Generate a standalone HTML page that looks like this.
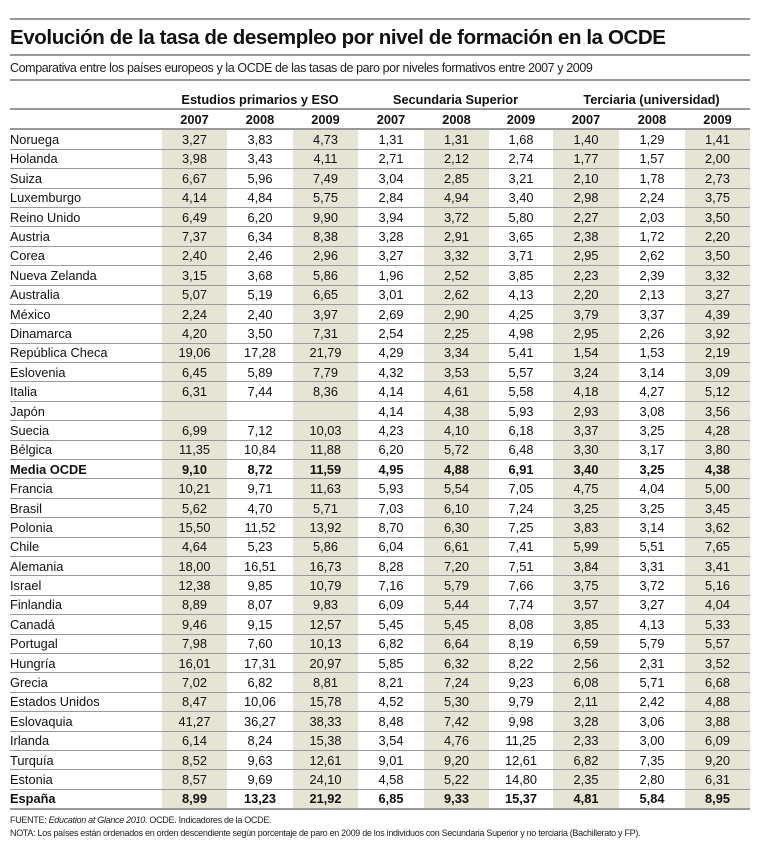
<!DOCTYPE html>
<html><head><meta charset="utf-8"><style>
body{margin:0;background:#fff;width:761px;height:850px;position:relative;font-family:"Liberation Sans",sans-serif;color:#111;overflow:hidden}
.hl{position:absolute;left:10px;width:740px;height:0;border-top:2px solid #999}
#t{position:absolute;left:10px;top:26px;font-size:20.5px;font-weight:bold;letter-spacing:-0.4px;white-space:nowrap}
#s{position:absolute;left:10px;top:61px;font-size:12.5px;letter-spacing:-0.4px;white-space:nowrap;color:#222}
table{position:absolute;left:10px;top:90px;border-collapse:collapse;table-layout:fixed;font-size:12.8px}
td{padding:0;height:18.4px;text-align:center;border-bottom:1px solid #999;white-space:nowrap}
td:first-child{text-align:left}
tr.h td{font-weight:bold;border-bottom:2px solid #999}
tr.g td{height:18px}
tr.b td{font-weight:bold}
tr.d td:nth-child(2),tr.d td:nth-child(4),tr.d td:nth-child(6),tr.d td:nth-child(8),tr.d td:nth-child(10){background:#e6e4d4}
#f{position:absolute;left:10px;top:814px;font-size:9px;line-height:13px;letter-spacing:-0.3px;color:#222;white-space:nowrap}
</style></head><body>
<div class="hl" style="top:18px"></div>
<div id="t">Evolución de la tasa de desempleo por nivel de formación en la OCDE</div>
<div class="hl" style="top:54px"></div>
<div id="s">Comparativa entre los países europeos y la OCDE de las tasas de paro por niveles formativos entre 2007 y 2009</div>
<div class="hl" style="top:79px"></div>
<table>
<colgroup><col style="width:152px"><col style="width:65px"><col style="width:66px"><col style="width:65px"><col style="width:66px"><col style="width:65px"><col style="width:64px"><col style="width:66px"><col style="width:66px"><col style="width:65px"></colgroup>
<tr class="h g"><td></td><td colspan="3">Estudios primarios y ESO</td><td colspan="3">Secundaria Superior</td><td colspan="3">Terciaria (universidad)</td></tr>
<tr class="h"><td></td><td>2007</td><td>2008</td><td>2009</td><td>2007</td><td>2008</td><td>2009</td><td>2007</td><td>2008</td><td>2009</td></tr>
<tr class="d"><td>Noruega</td><td>3,27</td><td>3,83</td><td>4,73</td><td>1,31</td><td>1,31</td><td>1,68</td><td>1,40</td><td>1,29</td><td>1,41</td></tr>
<tr class="d"><td>Holanda</td><td>3,98</td><td>3,43</td><td>4,11</td><td>2,71</td><td>2,12</td><td>2,74</td><td>1,77</td><td>1,57</td><td>2,00</td></tr>
<tr class="d"><td>Suiza</td><td>6,67</td><td>5,96</td><td>7,49</td><td>3,04</td><td>2,85</td><td>3,21</td><td>2,10</td><td>1,78</td><td>2,73</td></tr>
<tr class="d"><td>Luxemburgo</td><td>4,14</td><td>4,84</td><td>5,75</td><td>2,84</td><td>4,94</td><td>3,40</td><td>2,98</td><td>2,24</td><td>3,75</td></tr>
<tr class="d"><td>Reino Unido</td><td>6,49</td><td>6,20</td><td>9,90</td><td>3,94</td><td>3,72</td><td>5,80</td><td>2,27</td><td>2,03</td><td>3,50</td></tr>
<tr class="d"><td>Austria</td><td>7,37</td><td>6,34</td><td>8,38</td><td>3,28</td><td>2,91</td><td>3,65</td><td>2,38</td><td>1,72</td><td>2,20</td></tr>
<tr class="d"><td>Corea</td><td>2,40</td><td>2,46</td><td>2,96</td><td>3,27</td><td>3,32</td><td>3,71</td><td>2,95</td><td>2,62</td><td>3,50</td></tr>
<tr class="d"><td>Nueva Zelanda</td><td>3,15</td><td>3,68</td><td>5,86</td><td>1,96</td><td>2,52</td><td>3,85</td><td>2,23</td><td>2,39</td><td>3,32</td></tr>
<tr class="d"><td>Australia</td><td>5,07</td><td>5,19</td><td>6,65</td><td>3,01</td><td>2,62</td><td>4,13</td><td>2,20</td><td>2,13</td><td>3,27</td></tr>
<tr class="d"><td>México</td><td>2,24</td><td>2,40</td><td>3,97</td><td>2,69</td><td>2,90</td><td>4,25</td><td>3,79</td><td>3,37</td><td>4,39</td></tr>
<tr class="d"><td>Dinamarca</td><td>4,20</td><td>3,50</td><td>7,31</td><td>2,54</td><td>2,25</td><td>4,98</td><td>2,95</td><td>2,26</td><td>3,92</td></tr>
<tr class="d"><td>República Checa</td><td>19,06</td><td>17,28</td><td>21,79</td><td>4,29</td><td>3,34</td><td>5,41</td><td>1,54</td><td>1,53</td><td>2,19</td></tr>
<tr class="d"><td>Eslovenia</td><td>6,45</td><td>5,89</td><td>7,79</td><td>4,32</td><td>3,53</td><td>5,57</td><td>3,24</td><td>3,14</td><td>3,09</td></tr>
<tr class="d"><td>Italia</td><td>6,31</td><td>7,44</td><td>8,36</td><td>4,14</td><td>4,61</td><td>5,58</td><td>4,18</td><td>4,27</td><td>5,12</td></tr>
<tr class="d"><td>Japón</td><td></td><td></td><td></td><td>4,14</td><td>4,38</td><td>5,93</td><td>2,93</td><td>3,08</td><td>3,56</td></tr>
<tr class="d"><td>Suecia</td><td>6,99</td><td>7,12</td><td>10,03</td><td>4,23</td><td>4,10</td><td>6,18</td><td>3,37</td><td>3,25</td><td>4,28</td></tr>
<tr class="d"><td>Bélgica</td><td>11,35</td><td>10,84</td><td>11,88</td><td>6,20</td><td>5,72</td><td>6,48</td><td>3,30</td><td>3,17</td><td>3,80</td></tr>
<tr class="d b"><td>Media OCDE</td><td>9,10</td><td>8,72</td><td>11,59</td><td>4,95</td><td>4,88</td><td>6,91</td><td>3,40</td><td>3,25</td><td>4,38</td></tr>
<tr class="d"><td>Francia</td><td>10,21</td><td>9,71</td><td>11,63</td><td>5,93</td><td>5,54</td><td>7,05</td><td>4,75</td><td>4,04</td><td>5,00</td></tr>
<tr class="d"><td>Brasil</td><td>5,62</td><td>4,70</td><td>5,71</td><td>7,03</td><td>6,10</td><td>7,24</td><td>3,25</td><td>3,25</td><td>3,45</td></tr>
<tr class="d"><td>Polonia</td><td>15,50</td><td>11,52</td><td>13,92</td><td>8,70</td><td>6,30</td><td>7,25</td><td>3,83</td><td>3,14</td><td>3,62</td></tr>
<tr class="d"><td>Chile</td><td>4,64</td><td>5,23</td><td>5,86</td><td>6,04</td><td>6,61</td><td>7,41</td><td>5,99</td><td>5,51</td><td>7,65</td></tr>
<tr class="d"><td>Alemania</td><td>18,00</td><td>16,51</td><td>16,73</td><td>8,28</td><td>7,20</td><td>7,51</td><td>3,84</td><td>3,31</td><td>3,41</td></tr>
<tr class="d"><td>Israel</td><td>12,38</td><td>9,85</td><td>10,79</td><td>7,16</td><td>5,79</td><td>7,66</td><td>3,75</td><td>3,72</td><td>5,16</td></tr>
<tr class="d"><td>Finlandia</td><td>8,89</td><td>8,07</td><td>9,83</td><td>6,09</td><td>5,44</td><td>7,74</td><td>3,57</td><td>3,27</td><td>4,04</td></tr>
<tr class="d"><td>Canadá</td><td>9,46</td><td>9,15</td><td>12,57</td><td>5,45</td><td>5,45</td><td>8,08</td><td>3,85</td><td>4,13</td><td>5,33</td></tr>
<tr class="d"><td>Portugal</td><td>7,98</td><td>7,60</td><td>10,13</td><td>6,82</td><td>6,64</td><td>8,19</td><td>6,59</td><td>5,79</td><td>5,57</td></tr>
<tr class="d"><td>Hungría</td><td>16,01</td><td>17,31</td><td>20,97</td><td>5,85</td><td>6,32</td><td>8,22</td><td>2,56</td><td>2,31</td><td>3,52</td></tr>
<tr class="d"><td>Grecia</td><td>7,02</td><td>6,82</td><td>8,81</td><td>8,21</td><td>7,24</td><td>9,23</td><td>6,08</td><td>5,71</td><td>6,68</td></tr>
<tr class="d"><td>Estados Unidos</td><td>8,47</td><td>10,06</td><td>15,78</td><td>4,52</td><td>5,30</td><td>9,79</td><td>2,11</td><td>2,42</td><td>4,88</td></tr>
<tr class="d"><td>Eslovaquia</td><td>41,27</td><td>36,27</td><td>38,33</td><td>8,48</td><td>7,42</td><td>9,98</td><td>3,28</td><td>3,06</td><td>3,88</td></tr>
<tr class="d"><td>Irlanda</td><td>6,14</td><td>8,24</td><td>15,38</td><td>3,54</td><td>4,76</td><td>11,25</td><td>2,33</td><td>3,00</td><td>6,09</td></tr>
<tr class="d"><td>Turquía</td><td>8,52</td><td>9,63</td><td>12,61</td><td>9,01</td><td>9,20</td><td>12,61</td><td>6,82</td><td>7,35</td><td>9,20</td></tr>
<tr class="d"><td>Estonia</td><td>8,57</td><td>9,69</td><td>24,10</td><td>4,58</td><td>5,22</td><td>14,80</td><td>2,35</td><td>2,80</td><td>6,31</td></tr>
<tr class="d b"><td style="border-bottom:2px solid #999">España</td><td style="border-bottom:2px solid #999">8,99</td><td style="border-bottom:2px solid #999">13,23</td><td style="border-bottom:2px solid #999">21,92</td><td style="border-bottom:2px solid #999">6,85</td><td style="border-bottom:2px solid #999">9,33</td><td style="border-bottom:2px solid #999">15,37</td><td style="border-bottom:2px solid #999">4,81</td><td style="border-bottom:2px solid #999">5,84</td><td style="border-bottom:2px solid #999">8,95</td></tr>
</table>
<div id="f">FUENTE: <i>Education at Glance 2010</i>. OCDE. Indicadores de la OCDE.<br>NOTA: Los países están ordenados en orden descendiente según porcentaje de paro en 2009 de los individuos con Secundaria Superior y no terciaria (Bachillerato y FP).</div>
</body></html>
